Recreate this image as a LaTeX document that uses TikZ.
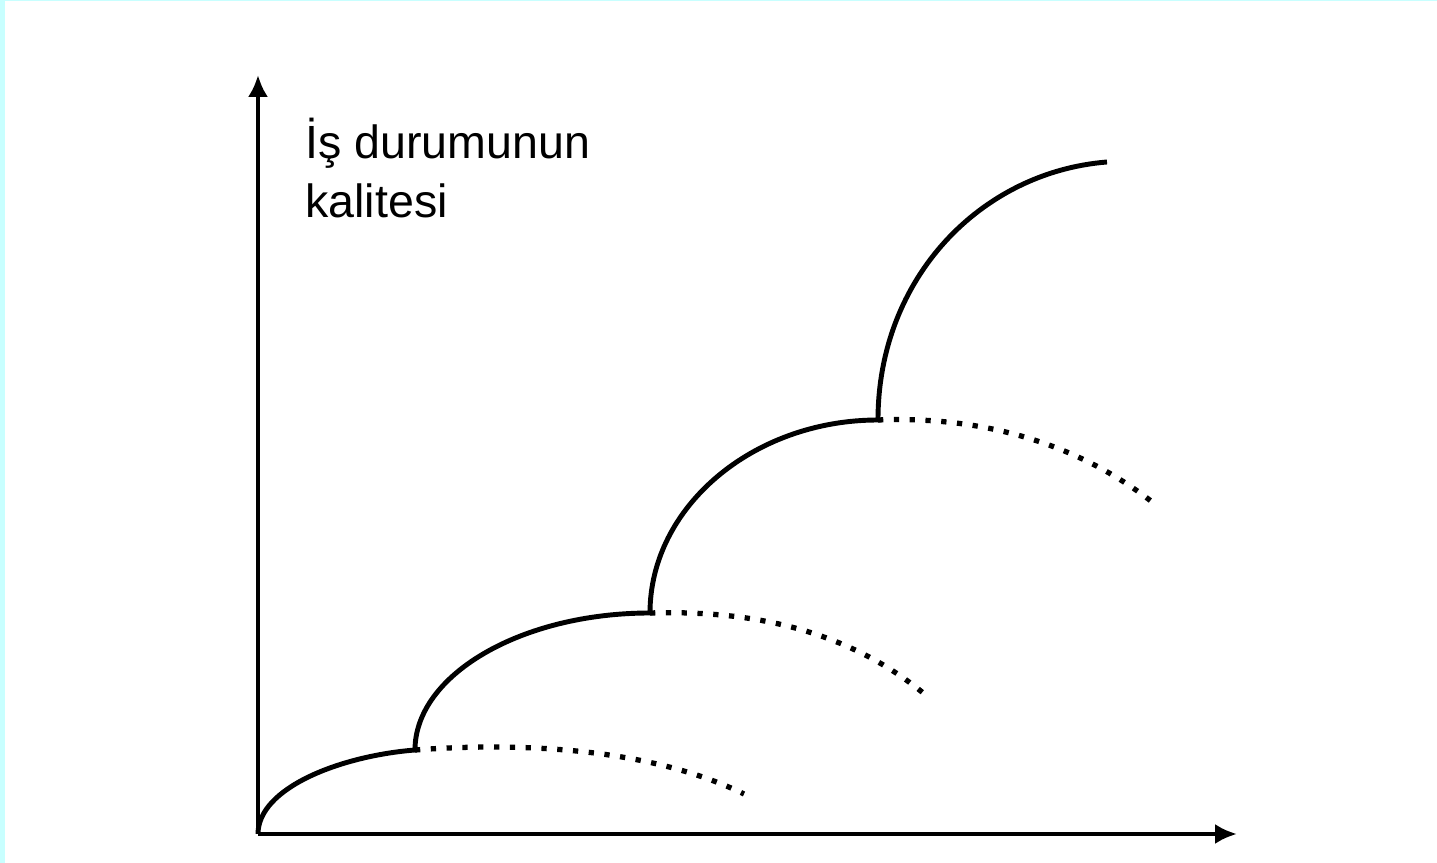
\documentclass[tikz,border=0pt]{standalone}
\usepackage{fontspec}
\setmainfont{Liberation Sans}
\usepackage{xcolor}
\usepackage{tikz}
\usetikzlibrary{calc, arrows.meta, positioning}

\definecolor{framecyan}{HTML}{C8FFFF}

\tikzset{
    curve/.style={line width=2.8pt},
    dotcurve/.style={line width=3pt, dash pattern=on 3pt off 6pt},
    axis/.style={line width=2.8pt, ->}
}

\begin{document}
\begin{tikzpicture}[>={Latex[length=12.5pt, width=11.5pt]}]
    \useasboundingbox (-5.16,-0.58) rectangle (23.58,16.68);
    % Çerçeve
    \fill[framecyan] (-5.16,-0.58) rectangle (-5.06,16.68);
    \fill[framecyan] (-5.16,16.66) rectangle (23.58,16.68);

    % Hệ trục
    \coordinate (O) at (0,0);
    \coordinate (yend) at (0,15.18);
    \coordinate (xend) at (19.58,0);
    \draw[axis] (O) -- (yend);
    \draw[axis] (O) -- (xend);
    \node[anchor=base west, align=left, inner sep=0pt,
          font=\fontsize{26.5}{34}\selectfont] (lbl) at (0.94,12.32)
          {İş durumunun\\kalitesi};

    % Các điểm nối
    \coordinate (J1) at (3.14,1.68);
    \coordinate (J2) at (7.84,4.42);
    \coordinate (J3) at (12.40,8.28);
    \coordinate (top) at (16.98,13.44);
    \coordinate (E1) at (9.72,0.80);
    \coordinate (E2) at (13.40,2.74);
    \coordinate (E3) at (17.96,6.58);

    % Đường cong liền
    \draw[curve] (O) .. controls (0,0.92) and (1.64,1.56) .. (J1)
        .. controls (3.14,3.18) and (5.26,4.42) .. (J2)
        .. controls (7.84,6.54) and (9.90,8.28) .. (J3)
        .. controls (12.40,11.12) and (14.46,13.24) .. (top);

    % Đường chấm
    \draw[dotcurve] (J1) .. controls (5.24,1.84) and (7.84,1.72) .. (E1);
    \draw[dotcurve] (J2) .. controls (9.84,4.48) and (11.80,4.10) .. (E2);
    \draw[dotcurve] (J3) .. controls (14.40,8.36) and (16.36,7.86) .. (E3);
\end{tikzpicture}
\end{document}
